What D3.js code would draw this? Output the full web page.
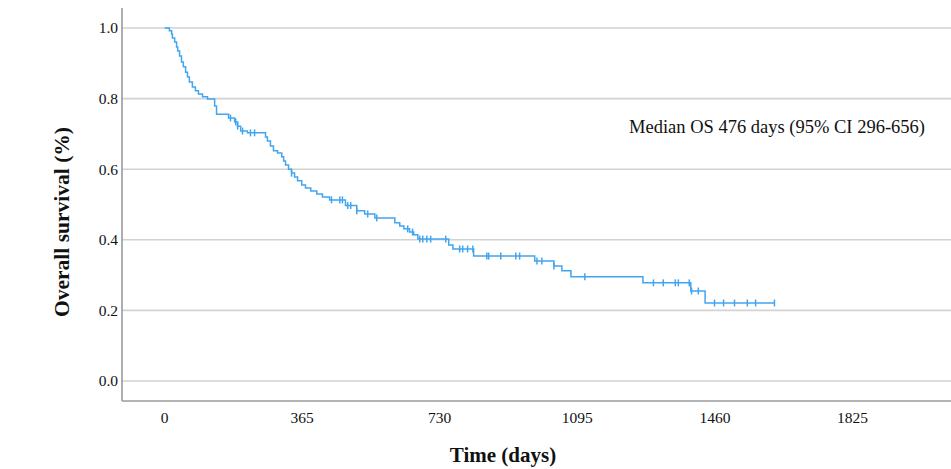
<!DOCTYPE html>
<html>
<head>
<meta charset="utf-8">
<script src="https://cdn.jsdelivr.net/npm/d3@7"></script>
<style>
  body { margin: 0; background: #fff; }
  svg { display: block; }
  text { font-family: "Liberation Serif", "Times New Roman", serif; fill: #111; }
</style>
</head>
<body>
<svg id="chart" width="951" height="469"></svg>
<script>
// Kaplan-Meier steps: day of event and survival right after it
const eventDays = [0, 13, 19, 21, 27, 32, 35, 40, 45, 50, 56, 61, 66, 74, 82, 90, 101, 114,
  133, 138, 170, 186, 194, 202, 220, 268, 273, 281, 289, 300, 311, 316, 321, 329, 337,
  345, 353, 364, 374, 388, 404, 419, 438, 480, 510, 531, 558, 611, 624, 635, 650,
  661, 672, 754, 765, 820, 982, 1033, 1054, 1078, 1269, 1396, 1434];
const survival = [1.0, 0.992, 0.983, 0.972, 0.960, 0.946, 0.935, 0.921, 0.904, 0.890, 0.875,
  0.861, 0.847, 0.833, 0.822, 0.813, 0.805, 0.799, 0.779, 0.756, 0.745, 0.734, 0.722,
  0.708, 0.703, 0.691, 0.680, 0.666, 0.652, 0.646, 0.635, 0.623, 0.612, 0.600, 0.589,
  0.578, 0.567, 0.555, 0.547, 0.538, 0.530, 0.521, 0.513, 0.497, 0.482, 0.473, 0.462,
  0.448, 0.439, 0.431, 0.422, 0.414, 0.402, 0.385, 0.374, 0.354, 0.340, 0.326, 0.312,
  0.295, 0.278, 0.255, 0.221];
const lastFollowUp = 1618;

// censored observations (days)
const censorDays = [175, 189, 194, 207, 228, 239, 337, 443, 465, 472, 486, 494, 510, 539, 563,
  645, 658, 677, 685, 696, 706, 746, 783, 791, 804, 818, 855, 860, 892, 932, 942,
  988, 1001, 1033, 1115, 1297, 1323, 1355, 1363, 1392, 1398, 1416, 1459, 1483, 1512,
  1546, 1568, 1618];

const xTicks = [0, 365, 730, 1095, 1460, 1825];
const yTicks = [0, 0.2, 0.4, 0.6, 0.8, 1.0];
const annotation = "Median OS 476 days (95% CI 296-656)";

const svg = d3.select("#chart");
const axisLeft = 122, axisBottom = 401, plotRight = 951, plotTop = 8;

const x = d3.scaleLinear().domain([0, 1825]).range([164.5, 852.5]);
const y = d3.scaleLinear().domain([0, 1]).range([381, 28]);

// gridlines
svg.append("g")
  .selectAll("line")
  .data(yTicks)
  .join("line")
  .attr("x1", axisLeft).attr("x2", plotRight)
  .attr("y1", d => y(d)).attr("y2", d => y(d))
  .attr("stroke", "#d2d2d2")
  .attr("stroke-width", 1.6);

// axis lines
svg.append("line")
  .attr("x1", axisLeft).attr("x2", axisLeft)
  .attr("y1", plotTop).attr("y2", axisBottom)
  .attr("stroke", "#9a9a9a").attr("stroke-width", 1.6);
svg.append("line")
  .attr("x1", axisLeft).attr("x2", plotRight)
  .attr("y1", axisBottom).attr("y2", axisBottom)
  .attr("stroke", "#9a9a9a").attr("stroke-width", 1.6);

// tick labels
svg.append("g")
  .selectAll("text")
  .data(yTicks)
  .join("text")
  .attr("x", 118)
  .attr("y", d => y(d))
  .attr("dy", "0.35em")
  .attr("text-anchor", "end")
  .style("font-size", "15.5px")
  .text(d => d3.format(".1f")(d));

svg.append("g")
  .selectAll("text")
  .data(xTicks)
  .join("text")
  .attr("x", d => x(d))
  .attr("y", 423)
  .attr("text-anchor", "middle")
  .style("font-size", "15.5px")
  .text(d => d);

// axis titles
svg.append("text")
  .attr("x", 503)
  .attr("y", 462)
  .attr("text-anchor", "middle")
  .style("font-size", "21px")
  .style("font-weight", "bold")
  .text("Time (days)");

svg.append("text")
  .attr("transform", "translate(69,222) rotate(-90)")
  .attr("text-anchor", "middle")
  .style("font-size", "21.5px")
  .style("font-weight", "bold")
  .text("Overall survival (%)");

// survival curve
const steps = eventDays.map((d, i) => [d, survival[i]]);
steps.push([lastFollowUp, survival[survival.length - 1]]);

const line = d3.line()
  .x(d => x(d[0]))
  .y(d => y(d[1]))
  .curve(d3.curveStepAfter);

svg.append("path")
  .datum(steps)
  .attr("d", line)
  .attr("fill", "none")
  .attr("stroke", "#42a5f0")
  .attr("stroke-width", 1.5);

// survival at a given day (step function)
function survAt(day) {
  let s = 1;
  for (let i = 0; i < eventDays.length; i++) {
    if (eventDays[i] <= day) s = survival[i];
  }
  return s;
}

svg.append("g")
  .selectAll("line")
  .data(censorDays)
  .join("line")
  .attr("x1", d => x(d)).attr("x2", d => x(d))
  .attr("y1", d => y(survAt(d)) - 3.5)
  .attr("y2", d => y(survAt(d)) + 3.5)
  .attr("stroke", "#42a5f0")
  .attr("stroke-width", 1.5);

// annotation
svg.append("text")
  .attr("x", 629)
  .attr("y", 133)
  .style("font-size", "18.5px")
  .text(annotation);
</script>
</body>
</html>
